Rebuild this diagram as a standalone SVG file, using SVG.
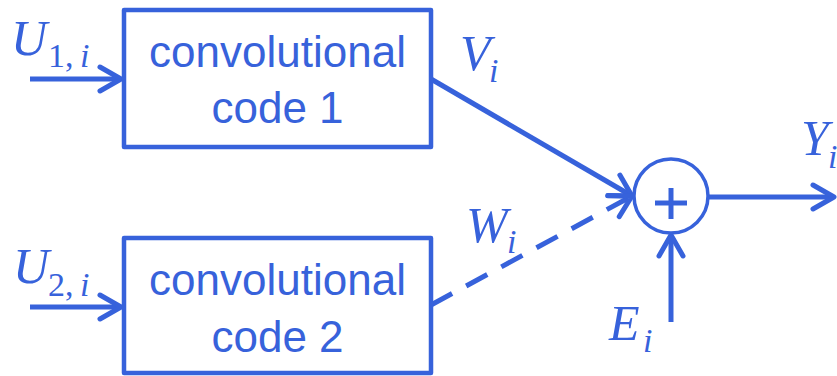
<svg xmlns="http://www.w3.org/2000/svg" width="837" height="376" viewBox="0 0 837 376">
<style>
.box{fill:#fff;stroke:#3762DB;stroke-width:4.5;stroke-linejoin:round}
.lbl{font-family:"Liberation Sans",Arial,sans-serif;font-size:44px;fill:#3762DB;text-anchor:middle}
.m{font-family:"Liberation Serif","Times New Roman",serif;font-style:italic;fill:#3762DB;font-size:50px}
.s{font-size:34px}
.r{font-style:normal}
.ln{stroke:#3762DB;stroke-width:5;fill:none}
</style>
<defs>
<marker id="ah" markerUnits="userSpaceOnUse" markerWidth="40" markerHeight="40" refX="0" refY="0" orient="auto" overflow="visible">
<path d="M-21,-12 L0,0 L-21,12" fill="none" stroke="#3762DB" stroke-width="5" stroke-linecap="round" stroke-linejoin="round"/>
</marker>
</defs>
<g id="connectors">
<line class="ln" x1="30" y1="79" x2="121" y2="79" marker-end="url(#ah)"/>
<line class="ln" x1="30" y1="307" x2="121" y2="307" marker-end="url(#ah)"/>
<line class="ln" x1="431" y1="79" x2="632" y2="196" marker-end="url(#ah)"/>
<line class="ln" x1="431" y1="305" x2="632" y2="196" stroke-dasharray="24 16" marker-end="url(#ah)"/>
<line class="ln" x1="708" y1="197" x2="834" y2="197" marker-end="url(#ah)"/>
<line class="ln" x1="671" y1="322" x2="671" y2="235" marker-end="url(#ah)"/>
</g>
<g id="code1">
<rect class="box" x="124" y="10" width="307" height="137"/>
<text class="lbl" x="277.5" y="67">convolutional</text>
<text class="lbl" x="277.5" y="123">code 1</text>
</g>
<g id="code2">
<rect class="box" x="124" y="238" width="307" height="135"/>
<text class="lbl" x="277.5" y="295">convolutional</text>
<text class="lbl" x="277.5" y="352">code 2</text>
</g>
<g id="adder">
<circle cx="671" cy="196" r="37" fill="#fff" stroke="#3762DB" stroke-width="3.5"/>
<line class="ln" x1="655" y1="203" x2="687" y2="203" stroke-width="3.5"/>
<line class="ln" x1="671" y1="188" x2="671" y2="219" stroke-width="3.5"/>
</g>
<g id="labels">
<text class="m" x="11" y="55">U<tspan class="s r" x="48" y="67">1,</tspan><tspan class="s" x="80" y="67">i</tspan></text>
<text class="m" x="13" y="283">U<tspan class="s r" x="48" y="296">2,</tspan><tspan class="s" x="80" y="296">i</tspan></text>
<text class="m" x="460" y="70">V<tspan class="s" x="489" y="82">i</tspan></text>
<text class="m" x="466" y="242">W<tspan class="s" x="507" y="253">i</tspan></text>
<text class="m" x="801" y="155">Y<tspan class="s" x="828" y="168">i</tspan></text>
<text class="m" x="609" y="340">E<tspan class="s" x="643" y="352">i</tspan></text>
</g>
</svg>
